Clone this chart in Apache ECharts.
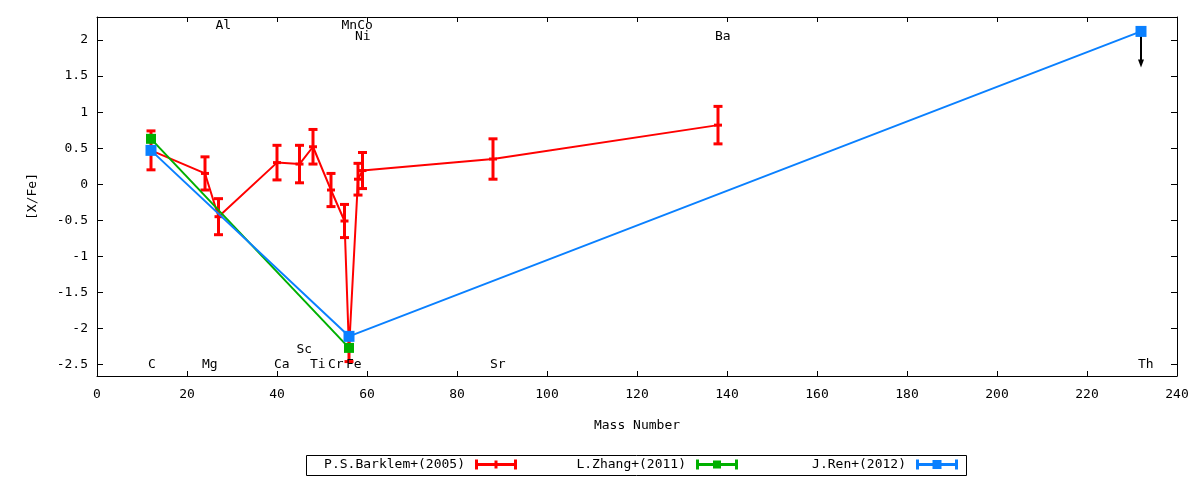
<!DOCTYPE html>
<html>
<head>
<meta charset="utf-8">
<script src="https://cdn.jsdelivr.net/npm/echarts@6/dist/echarts.min.js"></script>
<style>
	html, body { margin: 0; padding: 0; background: #fff; }
	#chart { width: 1200px; height: 480px; }
</style>
</head>
<body>
<div id="chart"></div>
<script>
// P.S.Barklem+(2005)
var barklemMass = [12, 24, 27, 40, 45, 48, 52, 55, 56, 58, 59, 88, 138];
var barklemValue = [0.47, 0.15, -0.45, 0.30, 0.28, 0.52, -0.08, -0.51, -2.30, 0.07, 0.19, 0.35, 0.82];
var barklemError = [0.27, 0.23, 0.25, 0.24, 0.26, 0.24, 0.23, 0.23, 0.16, 0.22, 0.25, 0.28, 0.26];
// L.Zhang+(2011)
var zhangMass = [12, 56];
var zhangValue = [0.63, -2.27];
// J.Ren+(2012)
var renMass = [12, 56, 232];
var renValue = [0.47, -2.11, 2.12];
// upper limit on Th: [mass, from, to]
var thLimit = [232, 2.12, 1.62];
// element labels
var elementNames = ['C', 'Mg', 'Al', 'Ca', 'Sc', 'Ti', 'Cr', 'Mn', 'Fe', 'Co', 'Ni', 'Sr', 'Ba', 'Th'];
var elementMass = [12, 24, 27, 40, 45, 48, 52, 55, 56, 58.5, 58, 88, 138, 232];
var elementY = [-2.5, -2.5, 2.2, -2.5, -2.3, -2.5, -2.5, 2.2, -2.5, 2.2, 2.05, -2.5, 2.05, -2.5];
// y tick values
var yTicks = [-2.5, -2, -1.5, -1, -0.5, 0, 0.5, 1, 1.5, 2];

var FONT = 'DejaVu Sans Mono';
var RED = '#ff0000', GREEN = '#00b000', BLUE = '#0a80ff';

function pairs(xs, ys){
	var out = [];
	for (var i = 0; i < xs.length; i++) out.push([xs[i], ys[i]]);
	return out;
}
function errRows(){
	var out = [];
	for (var i = 0; i < barklemMass.length; i++) {
		out.push([barklemMass[i], barklemValue[i] - barklemError[i], barklemValue[i] + barklemError[i]]);
	}
	return out;
}
function rect(x, y, w, h){
	return 'M' + x + ' ' + y + 'h' + w + 'v' + h + 'h' + (-w) + 'z';
}
function legendIcon(mid){
	return 'path://' + rect(0, 0, 3, 10) + rect(0, 3.5, 42, 3) + rect(39, 0, 3, 10) + mid;
}

var chart = echarts.init(document.getElementById('chart'));

var textStyle = { fontFamily: FONT, fontSize: 13, color: '#000' };
var frameLine = { show: true, onZero: false, lineStyle: { color: '#000', width: 1 } };

function legendAt(name, right, icon){
	return {
		data: [{ name: name, icon: icon }],
		right: right,
		top: 458,
		padding: 0,
		align: 'right',
		itemWidth: 42,
		itemHeight: 10,
		selectedMode: false,
		textStyle: { fontFamily: FONT, fontSize: 13, color: '#000', padding: [0, 5, 0, 0] }
	};
}

var option = {
	animation: false,
	backgroundColor: '#fff',
	grid: { left: 97, right: 23, top: 17, bottom: 104 },
	legend: [
		legendAt('P.S.Barklem+(2005)', 683, legendIcon(rect(19.5, 1, 3, 8))),
		legendAt('L.Zhang+(2011)', 462, legendIcon(rect(17, 1, 8, 8))),
		legendAt('J.Ren+(2012)', 242, legendIcon(rect(16.5, 0.5, 9, 9)))
	],
	graphic: [{
		type: 'rect',
		shape: { x: 306.5, y: 455.5, width: 660, height: 20 },
		style: { fill: 'none', stroke: '#000', lineWidth: 1 },
		silent: true
	}],
	xAxis: [{
		type: 'value',
		position: 'bottom',
		min: 0, max: 240, interval: 20,
		name: 'Mass Number',
		nameLocation: 'middle',
		nameGap: 43,
		nameTextStyle: textStyle,
		axisLine: frameLine,
		axisTick: { inside: true, length: 5, lineStyle: { color: '#000' } },
		axisLabel: { fontFamily: FONT, fontSize: 13, color: '#000', margin: 12 },
		splitLine: { show: false }
	}, {
		type: 'value',
		position: 'top',
		min: 0, max: 240, interval: 20,
		axisLine: frameLine,
		axisTick: { inside: true, length: 5, lineStyle: { color: '#000' } },
		axisLabel: { show: false },
		splitLine: { show: false }
	}],
	yAxis: [{
		type: 'value',
		position: 'left',
		min: -2.66, max: 2.32,
		name: '[X/Fe]',
		nameLocation: 'middle',
		nameGap: 58,
		nameTextStyle: textStyle,
		axisLine: frameLine,
		axisTick: { inside: true, length: 6, customValues: yTicks, lineStyle: { color: '#000' } },
		axisLabel: { fontFamily: FONT, fontSize: 13, color: '#000', margin: 9, customValues: yTicks },
		splitLine: { show: false }
	}, {
		type: 'value',
		position: 'right',
		min: -2.66, max: 2.32,
		axisLine: frameLine,
		axisTick: { inside: true, length: 6, customValues: yTicks, lineStyle: { color: '#000' } },
		axisLabel: { show: false },
		splitLine: { show: false }
	}],
	series: [{
		name: 'P.S.Barklem+(2005)',
		type: 'line',
		data: pairs(barklemMass, barklemValue),
		color: RED,
		lineStyle: { color: RED, width: 2 },
		symbol: 'rect',
		symbolSize: [8, 3],
		itemStyle: { color: RED },
		z: 2
	}, {
		name: 'barklemErr',
		type: 'custom',
		data: errRows(),
		z: 2,
		renderItem: function (params, api) {
			var x = api.value(0);
			var lo = api.coord([x, api.value(1)]);
			var hi = api.coord([x, api.value(2)]);
			var st = { stroke: RED, lineWidth: 3 };
			return {
				type: 'group',
				children: [
					{ type: 'line', shape: { x1: lo[0], y1: lo[1], x2: hi[0], y2: hi[1] }, style: st },
					{ type: 'line', shape: { x1: lo[0] - 4.5, y1: lo[1], x2: lo[0] + 4.5, y2: lo[1] }, style: st },
					{ type: 'line', shape: { x1: hi[0] - 4.5, y1: hi[1], x2: hi[0] + 4.5, y2: hi[1] }, style: st }
				]
			};
		}
	}, {
		name: 'L.Zhang+(2011)',
		type: 'line',
		data: pairs(zhangMass, zhangValue),
		color: GREEN,
		lineStyle: { color: GREEN, width: 2 },
		symbol: 'rect',
		symbolSize: 10,
		itemStyle: { color: GREEN },
		z: 3
	}, {
		name: 'J.Ren+(2012)',
		type: 'line',
		data: pairs(renMass, renValue),
		color: BLUE,
		lineStyle: { color: BLUE, width: 2 },
		symbol: 'rect',
		symbolSize: 11,
		itemStyle: { color: BLUE },
		z: 4
	}, {
		name: 'thLimit',
		type: 'custom',
		data: [thLimit],
		z: 3,
		renderItem: function (params, api) {
			var x = api.value(0);
			var a = api.coord([x, api.value(1)]);
			var b = api.coord([x, api.value(2)]);
			return {
				type: 'group',
				children: [
					{ type: 'line', shape: { x1: a[0], y1: a[1], x2: b[0], y2: b[1] - 6 }, style: { stroke: '#000', lineWidth: 2 } },
					{ type: 'polygon', shape: { points: [[b[0] - 3, b[1] - 8], [b[0] + 3, b[1] - 8], [b[0], b[1]]] }, style: { fill: '#000' } }
				]
			};
		}
	}, {
		name: 'elements',
		type: 'custom',
		data: pairs(elementMass, elementY),
		z: 5,
		renderItem: function (params, api) {
			var p = api.coord([api.value(0), api.value(1)]);
			return {
				type: 'text',
				x: p[0] - 3,
				y: p[1],
				style: {
					text: elementNames[params.dataIndex],
					fontFamily: FONT,
					fontSize: 13,
					fill: '#000',
					align: 'left',
					verticalAlign: 'middle'
				}
			};
		}
	}]
};

chart.setOption(option);
</script>
</body>
</html>
